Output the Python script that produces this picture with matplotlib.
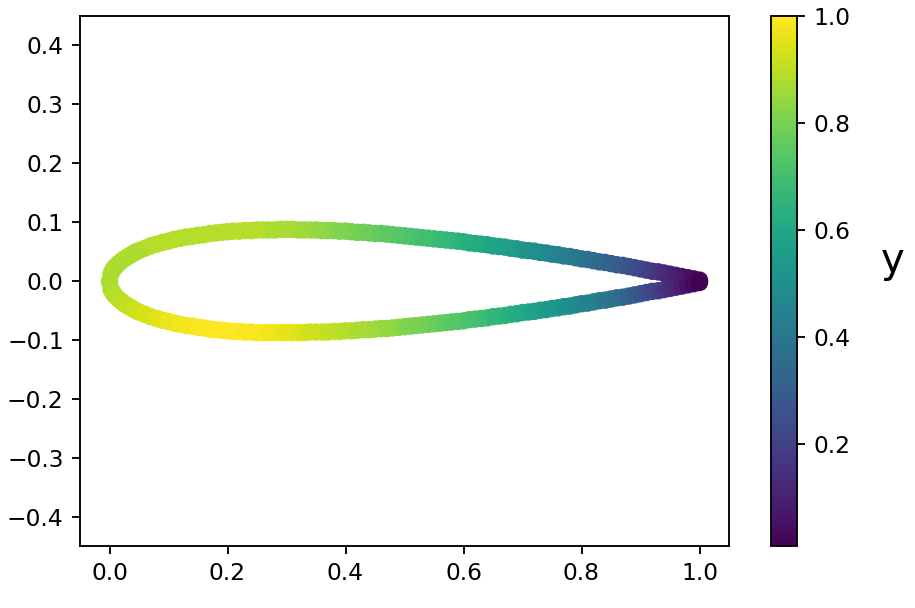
import numpy as np
import matplotlib
matplotlib.use("Agg")
import matplotlib.pyplot as plt

# airfoil outline: chord stations, upper and lower surface
x_st = [0.0, 0.0025, 0.005, 0.0075, 0.01, 0.015, 0.02, 0.025, 0.03, 0.035, 0.04, 0.045, 0.05,
        0.06, 0.07, 0.08, 0.09, 0.10, 0.11, 0.12, 0.13, 0.14, 0.15,
        0.16, 0.17, 0.18, 0.19, 0.20, 0.21, 0.22, 0.23, 0.24, 0.25,
        0.26, 0.27, 0.28, 0.29, 0.30, 0.31, 0.32, 0.33, 0.34, 0.35,
        0.36, 0.37, 0.38, 0.39, 0.40, 0.41, 0.42, 0.43, 0.44, 0.45,
        0.46, 0.47, 0.48, 0.49, 0.50, 0.51, 0.52, 0.53, 0.54, 0.55,
        0.56, 0.57, 0.58, 0.59, 0.60, 0.61, 0.62, 0.63, 0.64, 0.65,
        0.66, 0.67, 0.68, 0.69, 0.70, 0.71, 0.72, 0.73, 0.74, 0.75,
        0.76, 0.77, 0.78, 0.79, 0.80, 0.81, 0.82, 0.83, 0.84, 0.85,
        0.86, 0.87, 0.88, 0.89, 0.90, 0.91, 0.92, 0.93, 0.94, 0.95,
        0.96, 0.97, 0.98, 0.99, 1.00]
y_up = [0.000, 0.013, 0.018, 0.022, 0.025, 0.030, 0.034, 0.038, 0.041, 0.044, 0.047, 0.050, 0.052,
        0.056, 0.060, 0.063, 0.066, 0.068, 0.071, 0.073, 0.075, 0.076, 0.078,
        0.079, 0.081, 0.082, 0.083, 0.084, 0.085, 0.085, 0.086, 0.086, 0.087,
        0.087, 0.087, 0.087, 0.088, 0.088, 0.088, 0.087, 0.087, 0.087, 0.087,
        0.086, 0.086, 0.086, 0.085, 0.085, 0.084, 0.083, 0.083, 0.082, 0.081,
        0.081, 0.080, 0.079, 0.078, 0.077, 0.076, 0.075, 0.074, 0.073, 0.072,
        0.071, 0.070, 0.069, 0.068, 0.067, 0.065, 0.064, 0.063, 0.062, 0.060,
        0.059, 0.058, 0.056, 0.055, 0.053, 0.052, 0.051, 0.049, 0.048, 0.046,
        0.045, 0.043, 0.042, 0.040, 0.038, 0.037, 0.035, 0.033, 0.032, 0.030,
        0.028, 0.027, 0.025, 0.023, 0.021, 0.019, 0.017, 0.016, 0.014, 0.012,
        0.010, 0.008, 0.006, 0.004, 0.002]
y_lo = [0.000, -0.013, -0.018, -0.022, -0.025, -0.030, -0.034, -0.038, -0.041, -0.044, -0.047, -0.050, -0.052,
        -0.056, -0.060, -0.063, -0.066, -0.068, -0.071, -0.073, -0.075, -0.076, -0.078,
        -0.079, -0.081, -0.082, -0.083, -0.084, -0.085, -0.085, -0.086, -0.086, -0.087,
        -0.087, -0.087, -0.087, -0.087, -0.087, -0.087, -0.087, -0.087, -0.086, -0.086,
        -0.086, -0.086, -0.085, -0.085, -0.084, -0.084, -0.083, -0.082, -0.082, -0.081,
        -0.080, -0.080, -0.079, -0.078, -0.077, -0.076, -0.075, -0.074, -0.073, -0.072,
        -0.071, -0.070, -0.069, -0.068, -0.067, -0.065, -0.064, -0.063, -0.062, -0.060,
        -0.059, -0.058, -0.056, -0.055, -0.053, -0.052, -0.051, -0.049, -0.048, -0.046,
        -0.045, -0.043, -0.042, -0.040, -0.038, -0.037, -0.035, -0.033, -0.032, -0.030,
        -0.028, -0.027, -0.025, -0.023, -0.021, -0.019, -0.017, -0.016, -0.014, -0.012,
        -0.010, -0.008, -0.006, -0.004, -0.002]
# colour value at each point
c_up = [0.88, 0.88, 0.88, 0.88, 0.88, 0.88, 0.88, 0.88, 0.88, 0.88, 0.88, 0.88, 0.88,
        0.89, 0.89, 0.89, 0.89, 0.89, 0.89, 0.89, 0.89, 0.89, 0.89,
        0.89, 0.89, 0.89, 0.89, 0.89, 0.89, 0.89, 0.89, 0.89, 0.89,
        0.88, 0.88, 0.88, 0.87, 0.87, 0.86, 0.86, 0.85, 0.84, 0.84,
        0.83, 0.82, 0.81, 0.81, 0.80, 0.79, 0.78, 0.78, 0.77, 0.76,
        0.75, 0.75, 0.74, 0.73, 0.72, 0.71, 0.70, 0.70, 0.69, 0.68,
        0.67, 0.66, 0.65, 0.64, 0.63, 0.62, 0.61, 0.60, 0.59, 0.58,
        0.57, 0.56, 0.55, 0.53, 0.52, 0.50, 0.49, 0.47, 0.46, 0.44,
        0.43, 0.42, 0.41, 0.39, 0.38, 0.36, 0.35, 0.33, 0.32, 0.30,
        0.28, 0.26, 0.24, 0.22, 0.20, 0.18, 0.15, 0.13, 0.11, 0.09,
        0.07, 0.05, 0.04, 0.03, 0.015]
c_lo = [0.88, 0.88, 0.88, 0.89, 0.89, 0.89, 0.90, 0.90, 0.91, 0.91, 0.92, 0.92, 0.93,
        0.94, 0.94, 0.95, 0.96, 0.97, 0.97, 0.98, 0.98, 0.98, 0.99,
        0.99, 0.99, 1.00, 1.00, 1.00, 1.00, 1.00, 0.99, 0.99, 0.99,
        0.99, 0.98, 0.98, 0.97, 0.96, 0.96, 0.95, 0.94, 0.93, 0.93,
        0.92, 0.91, 0.91, 0.90, 0.89, 0.89, 0.88, 0.87, 0.87, 0.86,
        0.85, 0.84, 0.84, 0.83, 0.82, 0.81, 0.80, 0.80, 0.79, 0.78,
        0.77, 0.76, 0.75, 0.74, 0.73, 0.72, 0.71, 0.70, 0.69, 0.67,
        0.66, 0.65, 0.64, 0.62, 0.61, 0.60, 0.58, 0.57, 0.55, 0.54,
        0.53, 0.51, 0.50, 0.48, 0.47, 0.45, 0.44, 0.42, 0.41, 0.39,
        0.38, 0.35, 0.33, 0.30, 0.28, 0.25, 0.22, 0.20, 0.17, 0.14,
        0.12, 0.09, 0.06, 0.03, 0.01]

# go round the section: trailing edge -> leading edge on top, back along the bottom
xs = x_st[::-1] + x_st[1:]
ys = y_up[::-1] + y_lo[1:]
cs = c_up[::-1] + c_lo[1:]

fig = plt.figure(figsize=(915 / 168, 608 / 168), dpi=168)
ax = fig.add_axes([80 / 915, 62 / 608, 649 / 915, 530 / 608])
cax = fig.add_axes([771 / 915, 62 / 608, 26 / 915, 530 / 608])

sc = ax.scatter(xs, ys, c=cs, cmap="viridis", s=56, linewidths=0)
ax.axis("equal")

cbar = fig.colorbar(sc, cax=cax)
cbar.set_label("y", rotation=0, fontsize="xx-large", labelpad=18, va="bottom")

fig.savefig("out.png", dpi=168)
